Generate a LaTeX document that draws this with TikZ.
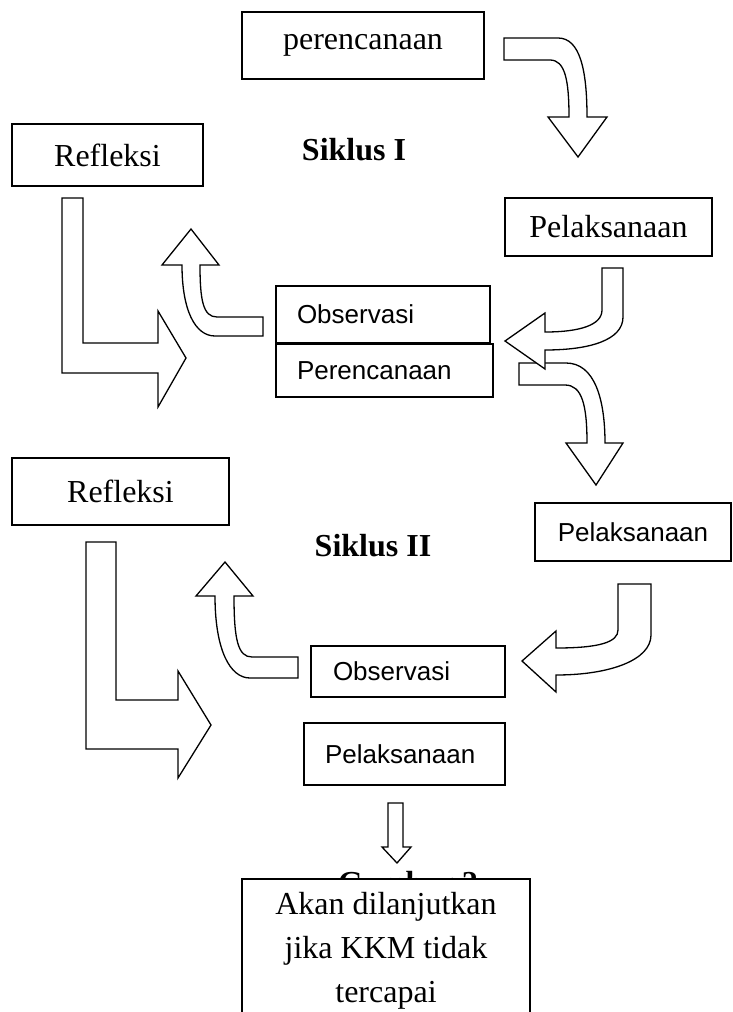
\documentclass[tikz,border=0pt]{standalone}
\usepackage{fontspec}
\setmainfont{Liberation Serif}
\setsansfont{Liberation Sans}
\usepackage{tikz}
\usetikzlibrary{arrows.meta,calc,positioning}
\newcommand{\bigserif}{\fontsize{32}{44}\selectfont}
\newcommand{\bigsans}{\sffamily\fontsize{26}{30}\selectfont}

\tikzset{
  tbox/.style={draw,fill=white,line width=1.6pt,font=\bigserif,inner sep=0pt},
  lbox/.style={draw,fill=white,line width=1.6pt,font=\bigsans,align=left,
    inner xsep=21pt,inner ysep=0pt,text width=#1},
  blockarrow/.style={draw,fill=white,line width=1.3pt,line join=miter}
}

\begin{document}
\begin{tikzpicture}[>=Stealth,x=1pt,y=-1pt]
  \useasboundingbox (0,0) rectangle (733,1012);
  % siklus I
  \node[tbox,minimum width=242pt,minimum height=67pt] (plan1) at (363,45.5) {perencanaan};
  \node[font=\bigserif\bfseries] (siklus1) at (354,150) {Siklus I};
  \node[tbox,minimum width=191pt,minimum height=62pt] (refl1) at (107.5,155) {Refleksi};
  \node[tbox,minimum width=207pt,minimum height=58pt] (act1) at (608.5,227) {Pelaksanaan};
  \node[lbox=172pt,minimum height=57pt] (obs1) at (383,314.5) {Observasi};
  \node[lbox=175pt,minimum height=53pt] (plan2) at (384.5,370.5) {Perencanaan};
  % plan1 -> act1
  \draw[blockarrow] (504,38) -- (558,38) .. controls (580,38) and (587,70) .. (587,117)
    -- (607,117) -- (578,157) -- (548,117) -- (569,117)
    .. controls (569,80) and (565,60) .. (550,60) -- (504,60) -- cycle;
  % refl1 -> obs1
  \draw[blockarrow] (62,198) -- (83,198) -- (83,343) -- (158,343) -- (158,311)
    -- (186,358) -- (158,407) -- (158,373) -- (62,373) -- cycle;
  % obs1 -> refl1
  \draw[blockarrow] (263,317) -- (217,317) .. controls (203,317) and (200,300) .. (200,265)
    -- (219,265) -- (191,229) -- (162,265) -- (182,265)
    .. controls (182,310) and (195,336) .. (215,336) -- (263,336) -- cycle;
  % plan2 -> act2
  \draw[blockarrow] (519,363) -- (566,363) .. controls (595,363) and (605,400) .. (605,443)
    -- (623,443) -- (596,485) -- (566,443) -- (587,443)
    .. controls (587,405) and (582,385) .. (565,385) -- (519,385) -- cycle;
  % act1 -> obs1
  \draw[blockarrow] (602,268) -- (623,268) -- (623,317) .. controls (623,340) and (590,350) .. (545,350)
    -- (545,369) -- (505,341) -- (545,313) -- (545,332)
    .. controls (580,332) and (602,325) .. (602,310) -- cycle;
  % siklus II
  \node[tbox,minimum width=217pt,minimum height=67pt] (refl2) at (120.5,491.5) {Refleksi};
  \node[font=\bigserif\bfseries] (siklus2) at (373,546) {Siklus II};
  \node[tbox,font=\bigsans,minimum width=196pt,minimum height=58pt] (act2) at (633,532) {Pelaksanaan};
  \node[lbox=150pt,inner xsep=22pt,minimum height=51pt] (obs2) at (408,671.5) {Observasi};
  \node[lbox=159pt,minimum height=62pt] (act3) at (404.5,754) {Pelaksanaan};
  % refl2 -> act3
  \draw[blockarrow] (86,542) -- (116,542) -- (116,700) -- (178,700) -- (178,671)
    -- (211,725) -- (178,778) -- (178,749) -- (86,749) -- cycle;
  % obs2 -> refl2
  \draw[blockarrow] (298,657) -- (252,657) .. controls (238,657) and (234,640) .. (234,596)
    -- (253,596) -- (225,562) -- (196,596) -- (215,596)
    .. controls (215,650) and (230,678) .. (250,678) -- (298,678) -- cycle;
  % act2 -> obs2
  \draw[blockarrow] (618,584) -- (651,584) -- (651,635) .. controls (651,660) and (610,675) .. (556,675)
    -- (556,692) -- (522,661) -- (556,631) -- (556,648)
    .. controls (600,648) and (618,642) .. (618,630) -- cycle;
  % act3 -> next
  \draw[blockarrow] (388,803) -- (403,803) -- (403,847) -- (411,847) -- (397,863)
    -- (382,847) -- (388,847) -- cycle;
  \node[font=\bigserif\bfseries,anchor=base] (caption) at (408,893) {Gambar 2};
  \node[tbox,align=center,minimum width=288pt,minimum height=144pt] (next) at (386,951)
    {Akan dilanjutkan\\jika KKM tidak\\tercapai};
\end{tikzpicture}
\end{document}
